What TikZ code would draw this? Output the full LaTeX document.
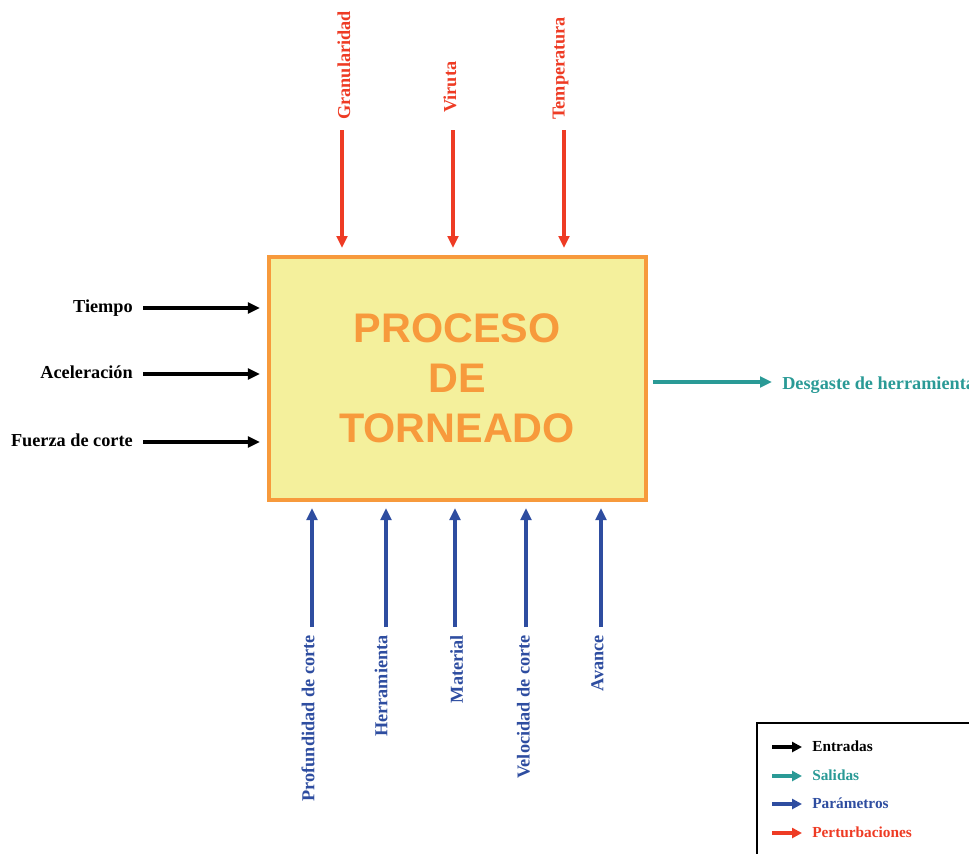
\documentclass[tikz,border=0pt]{standalone}
\usepackage{fontspec}
\setmainfont{Liberation Serif}
\newfontfamily\headfont{Liberation Sans}
\usetikzlibrary{arrows.meta}
\definecolor{pertred}{HTML}{EE3B24}
\definecolor{parblue}{HTML}{2E4DA0}
\definecolor{outteal}{HTML}{2A9A96}
\definecolor{procorange}{HTML}{F79A3C}
\definecolor{procfill}{HTML}{F4F09C}
\begin{document}
\begin{tikzpicture}[x=0.75pt,y=0.75pt,
  flow/.style={line width=2.8pt,-{Triangle[length=9pt,width=8pt]}},
  legflow/.style={line width=2.6pt,-{Triangle[length=7.5pt,width=7.5pt]}},
  lbl/.style={font=\fontsize{13.7}{16}\selectfont\bfseries, inner sep=0pt},
  leg/.style={font=\fontsize{11.5}{14}\selectfont\bfseries, inner sep=0pt, anchor=base west},
  topl/.style={lbl, rotate=90, anchor=west, text=pertred},
  botl/.style={lbl, rotate=90, anchor=east, text=parblue},
  leftl/.style={lbl, anchor=base east},
  procbox/.style={draw=procorange, line width=3pt, fill=procfill,
    minimum width=282.75pt, minimum height=182.25pt, align=center,
    text=procorange, font=\headfont\bfseries\fontsize{31}{37.5}\selectfont}]
\useasboundingbox (0,0) rectangle (969,-853);

% central process block
\node[procbox] (proc) at (457,-378.5) {PROCESO\\DE\\TORNEADO};

% disturbances (top)
\node[topl] (gran) at (344,-120) {Granularidad};
\node[topl] (viru) at (450,-113) {Viruta};
\node[topl] (temp) at (560.5,-120) {Temperatura};
\coordinate (gran0) at (342,-130);
\coordinate (viru0) at (453,-130);
\coordinate (temp0) at (564,-130);
\foreach \c in {gran0,viru0,temp0}
  \draw[flow,pertred,shorten >=5.25pt] (\c) -- (\c |- proc.north);

% inputs (left)
\node[leftl] (tiem) at (133,-312) {Tiempo};
\node[leftl] (acel) at (133,-378) {Aceleración};
\node[leftl] (fuer) at (133,-446) {Fuerza de corte};
\coordinate (tiem0) at (143,-308);
\coordinate (acel0) at (143,-374);
\coordinate (fuer0) at (143,-442);
\foreach \c in {tiem0,acel0,fuer0}
  \draw[flow,black,shorten >=4.9pt] (\c) -- (\c -| proc.west);

% output (right), running past the page edge
\node[lbl, anchor=base west, text=outteal] (desg) at (782,-389) {Desgaste de herramienta};
\coordinate (desg0) at (772,-382);
\draw[flow,outteal,shorten <=4pt] (proc.east |- desg0) -- (desg0);

% parameters (bottom)
\node[botl] (prof) at (308,-635) {Profundidad de corte};
\node[botl] (herr) at (381,-635) {Herramienta};
\node[botl] (mate) at (456.5,-635) {Material};
\node[botl] (velo) at (523.5,-635) {Velocidad de corte};
\node[botl] (avan) at (597.5,-635) {Avance};
\coordinate (prof0) at (312,-627);
\coordinate (herr0) at (386,-627);
\coordinate (mate0) at (455,-627);
\coordinate (velo0) at (526,-627);
\coordinate (avan0) at (601,-627);
\foreach \c in {prof0,herr0,mate0,velo0,avan0}
  \draw[flow,parblue,shorten >=4.5pt] (\c) -- (\c |- proc.south);

% legend
\draw[line width=2pt] (757,-900) -- (757,-723) -- (1000,-723);
\coordinate (la0) at (772,-747);  \coordinate (la1) at (802,-747);
\coordinate (lb0) at (772,-776);  \coordinate (lb1) at (802,-776);
\coordinate (lc0) at (772,-804);  \coordinate (lc1) at (802,-804);
\coordinate (ld0) at (772,-833);  \coordinate (ld1) at (802,-833);
\draw[legflow,black] (la0) -- (la1);
\draw[legflow,outteal] (lb0) -- (lb1);
\draw[legflow,parblue] (lc0) -- (lc1);
\draw[legflow,pertred] (ld0) -- (ld1);
\node[leg] (lega) at (812,-751.5) {Entradas};
\node[leg, text=outteal] (legb) at (812,-780.5) {Salidas};
\node[leg, text=parblue] (legc) at (812,-808.5) {Parámetros};
\node[leg, text=pertred] (legd) at (812,-837.5) {Perturbaciones};
\end{tikzpicture}
\end{document}
